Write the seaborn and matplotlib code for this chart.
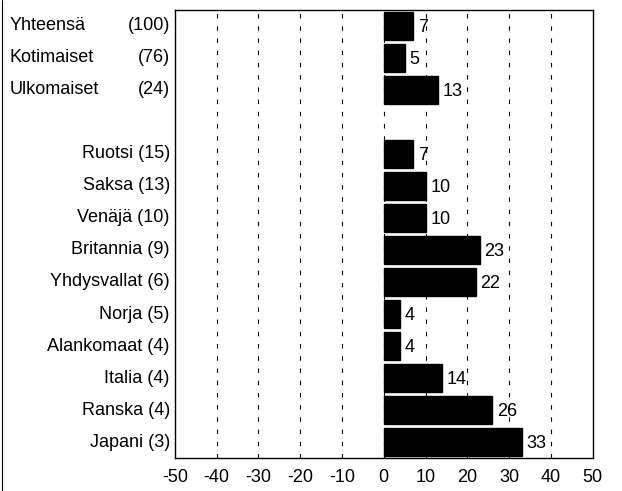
import pandas as pd
import matplotlib.pyplot as plt
import seaborn as sns

# summary rows
top_names = ["Yhteensä", "Kotimaiset", "Ulkomaiset"]
top_counts = [100, 76, 24]
top_values = [7, 5, 13]

# countries
country_names = ["Ruotsi", "Saksa", "Venäjä", "Britannia", "Yhdysvallat",
                 "Norja", "Alankomaat", "Italia", "Ranska", "Japani"]
country_counts = [15, 13, 10, 9, 6, 5, 4, 4, 4, 3]
country_values = [7, 10, 10, 23, 22, 4, 4, 14, 26, 33]

xticks = [-50, -40, -30, -20, -10, 0, 10, 20, 30, 40, 50]

sns.set_style("white")
plt.rcParams['font.family'] = ['Liberation Sans', 'DejaVu Sans']
plt.rcParams['text.color'] = 'black'
plt.rcParams['xtick.color'] = 'black'
FS = 13

df = pd.DataFrame({"name": top_names + country_names,
                   "value": top_values + country_values})
order = top_names + [" "] + country_names

fig = plt.figure(figsize=(6.22, 4.91), dpi=100)
ax = fig.add_axes([0.281, 0.067, 0.672, 0.913])
sns.barplot(data=df, x="value", y="name", order=order, color="black",
            saturation=1, width=0.86, ax=ax, zorder=3)
for p in ax.patches:
    p.set_edgecolor("black")

ax.set_xlim(-50, 50)
ax.set_ylim(len(order) - 0.5, -0.5)
ax.set_xticks(xticks)
ax.set_xticklabels([str(t) for t in xticks], fontsize=FS)
ax.set_yticks([])
ax.set_xlabel("")
ax.set_ylabel("")
ax.tick_params(axis="x", length=0, pad=8)
for t in xticks[1:-1]:
    ax.axvline(t, color="black", lw=0.8, ls=(0, (4, 7)), zorder=1)
for s in ax.spines.values():
    s.set_color("black")
    s.set_linewidth(1.0)

# value labels
for i, name in enumerate(order):
    if name.strip() == "":
        continue
    v = df.loc[df.name == name, "value"].iloc[0]
    ax.text(v + 1.1, i + 0.05, str(v), va="center", ha="left", fontsize=FS)

# category labels
trans = ax.get_yaxis_transform()
for i, (n, c) in enumerate(zip(top_names, top_counts)):
    ax.text(-0.395, i, n, transform=trans, ha="left", va="center", fontsize=FS)
    ax.text(-0.012, i, "(%d)" % c, transform=trans, ha="right", va="center", fontsize=FS)
for j, (n, c) in enumerate(zip(country_names, country_counts)):
    i = j + 4
    ax.text(-0.012, i, "%s (%d)" % (n, c), transform=trans, ha="right",
            va="center", fontsize=FS)

# scanned page border on the left
fig.add_artist(plt.Line2D([0.004, 0.004], [0.0, 1.0], color="black", lw=0.8))

fig.savefig("out.png", dpi=100)
